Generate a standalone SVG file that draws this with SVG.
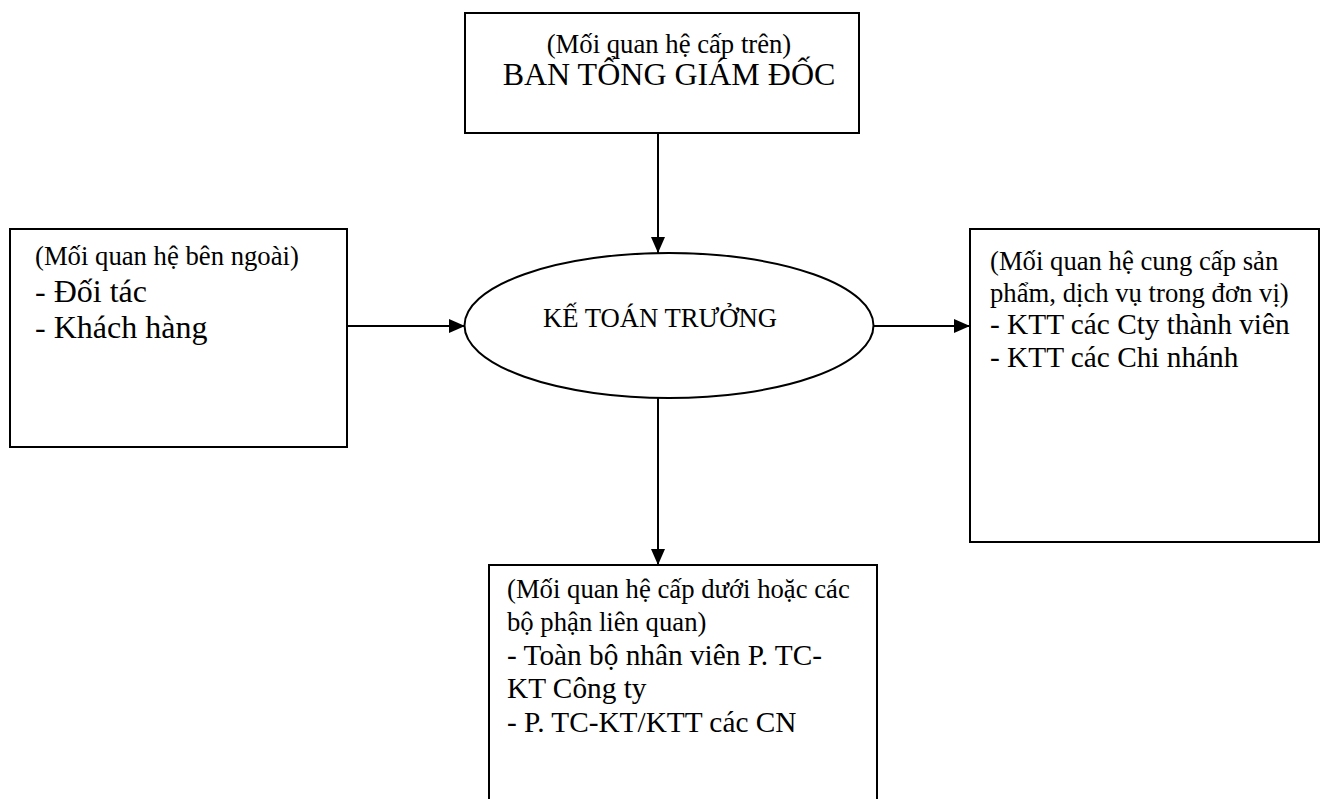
<svg xmlns="http://www.w3.org/2000/svg" width="1320" height="799" viewBox="0 0 1320 799">
  <style>
    .box { fill: #ffffff; stroke: #000000; stroke-width: 2; }
    .link { stroke: #000000; stroke-width: 2; fill: none; }
    text { font-family: "Liberation Serif", "Times New Roman", serif; fill: #000000; }
    .sm { font-size: 26.7px; }
    .md { font-size: 29.3px; }
    .lg { font-size: 32px; }
  </style>
  <defs>
    <marker id="head" viewBox="0 0 16 14" refX="16" refY="7" markerWidth="16" markerHeight="14" markerUnits="userSpaceOnUse" orient="auto">
      <path d="M0,0 L16,7 L0,14 Z" fill="#000000"/>
    </marker>
  </defs>

  <!-- connectors -->
  <g id="connectors">
    <line class="link" x1="658" y1="133" x2="658" y2="253" marker-end="url(#head)"/>
    <line class="link" x1="347" y1="326" x2="465" y2="326" marker-end="url(#head)"/>
    <line class="link" x1="874" y1="326" x2="970" y2="326" marker-end="url(#head)"/>
    <line class="link" x1="658" y1="398" x2="658" y2="565" marker-end="url(#head)"/>
  </g>

  <!-- upper management -->
  <g id="node-top">
    <rect class="box" x="465" y="13" width="394" height="120"/>
    <text class="sm" x="669" y="53" text-anchor="middle">(Mối quan hệ cấp trên)</text>
    <text class="lg" x="669" y="85" text-anchor="middle">BAN TỔNG GIÁM ĐỐC</text>
  </g>

  <!-- external relations -->
  <g id="node-left">
    <rect class="box" x="10" y="229" width="337" height="218"/>
    <text class="sm" x="35" y="265">(Mối quan hệ bên ngoài)</text>
    <text class="lg" x="35" y="302">- Đối tác</text>
    <text class="lg" x="35" y="338">- Khách hàng</text>
  </g>

  <!-- chief accountant -->
  <g id="node-center">
    <ellipse class="box" cx="669" cy="325.5" rx="204.5" ry="72.5"/>
    <text class="sm" x="660" y="327" text-anchor="middle">KẾ TOÁN TRƯỞNG</text>
  </g>

  <!-- internal service relations -->
  <g id="node-right">
    <rect class="box" x="970" y="229" width="349" height="313"/>
    <text class="sm" x="990" y="270">(Mối quan hệ cung cấp sản</text>
    <text class="sm" x="990" y="302">phẩm, dịch vụ trong đơn vị)</text>
    <text class="md" x="990" y="334">- KTT các Cty thành viên</text>
    <text class="md" x="990" y="367">- KTT các Chi nhánh</text>
  </g>

  <!-- subordinate relations -->
  <g id="node-bottom">
    <rect class="box" x="489" y="565" width="388" height="250"/>
    <text class="sm" x="507" y="598">(Mối quan hệ cấp dưới hoặc các</text>
    <text class="sm" x="507" y="631">bộ phận liên quan)</text>
    <text class="md" x="507" y="665">- Toàn bộ nhân viên P. TC-</text>
    <text class="md" x="507" y="698">KT Công ty</text>
    <text class="md" x="507" y="732">- P. TC-KT/KTT các CN</text>
  </g>
</svg>
